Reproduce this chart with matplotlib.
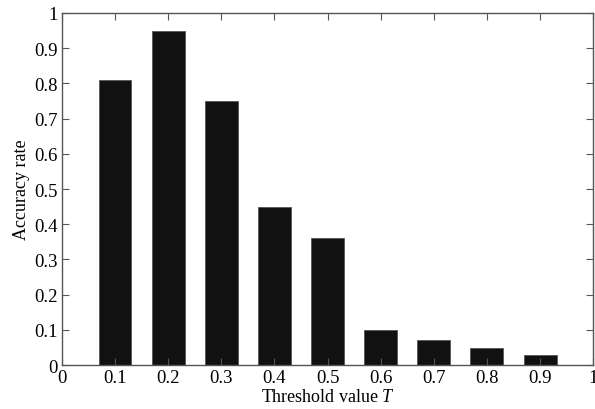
import numpy as np
import matplotlib.pyplot as plt

plt.rcParams['font.family'] = ['Liberation Serif', 'DejaVu Serif']
plt.rcParams['mathtext.fontset'] = 'custom'
plt.rcParams['mathtext.it'] = 'Liberation Serif:italic'

thresholds = [0.1, 0.2, 0.3, 0.4, 0.5, 0.6, 0.7, 0.8, 0.9]
accuracy = [0.81, 0.95, 0.75, 0.45, 0.36, 0.10, 0.07, 0.05, 0.03]
ticks = [0, 0.1, 0.2, 0.3, 0.4, 0.5, 0.6, 0.7, 0.8, 0.9, 1]
tick_labels = ['0', '0.1', '0.2', '0.3', '0.4', '0.5', '0.6', '0.7', '0.8', '0.9', '1']

fig = plt.figure(figsize=(5.95, 4.10), dpi=100)
ax = fig.add_axes([0.104, 0.107, 0.893, 0.859])

ax.bar(thresholds, accuracy, width=0.062, color='#111111', edgecolor='#555555', linewidth=0.6)

ax.set_xlim(0, 1)
ax.set_ylim(0, 1)
ax.set_xticks(ticks)
ax.set_xticklabels(tick_labels)
ax.set_yticks(ticks)
ax.set_yticklabels(tick_labels)
ax.tick_params(direction='in', top=True, right=True, labelsize=13.5, length=5, width=0.8, color='#555555', pad=3)
for s in ax.spines.values():
    s.set_color('#555555')
    s.set_linewidth(1.0)

ax.set_xlabel('Threshold value $T$', fontsize=13, labelpad=1)
ax.set_ylabel('Accuracy rate', fontsize=13, labelpad=3)

fig.savefig('out.png', dpi=100)
